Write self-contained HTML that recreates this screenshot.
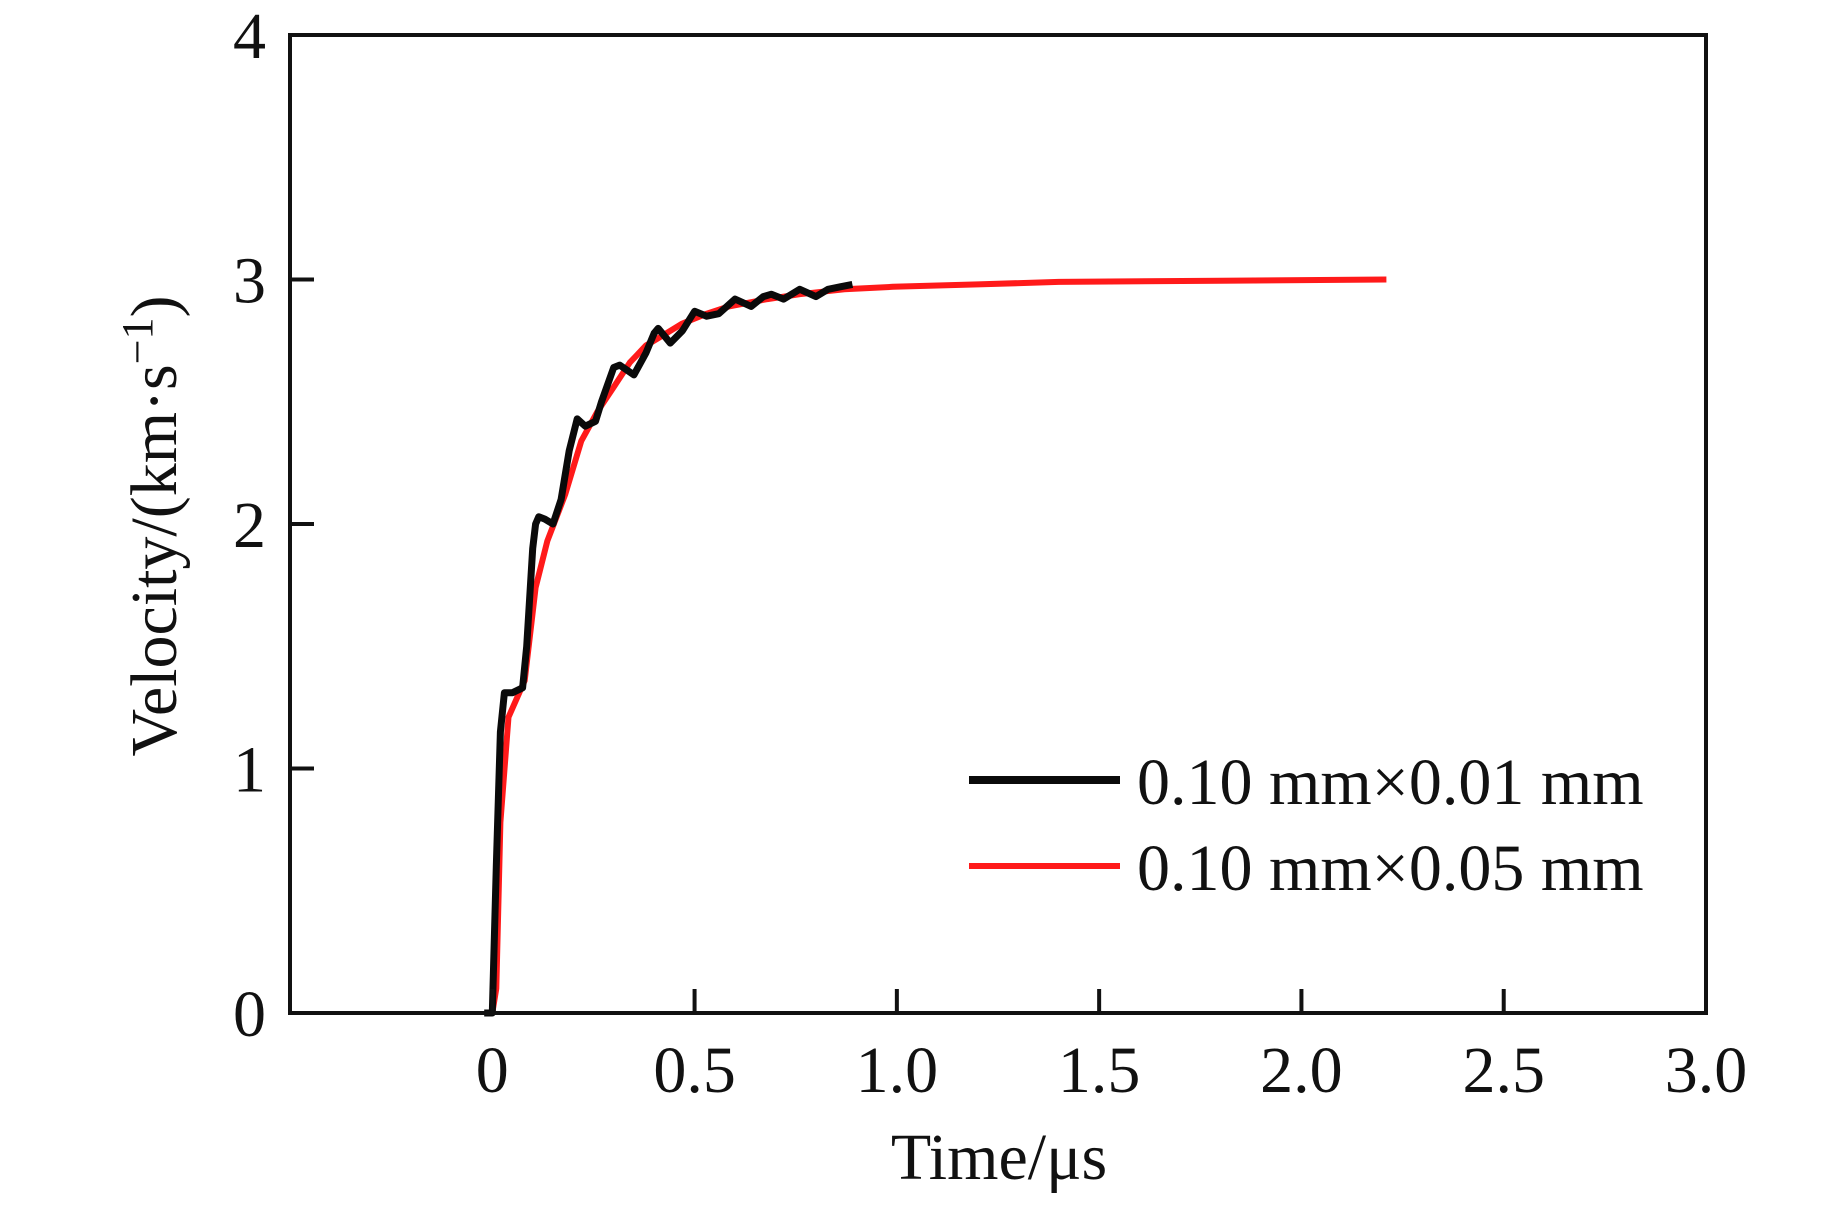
<!DOCTYPE html>
<html><head><meta charset="utf-8"><style>
html,body{margin:0;padding:0;background:#fff;}
svg{display:block;font-family:"Liberation Serif",serif;}
</style></head><body>
<svg id="chart" width="1843" height="1205" viewBox="0 0 1843 1205">
<g id="plot"></g>
</svg>
<script>
const xTicks = [0, 0.5, 1.0, 1.5, 2.0, 2.5, 3.0];
const xTickLabels = ["0", "0.5", "1.0", "1.5", "2.0", "2.5", "3.0"];
const yTicks = [0, 1, 2, 3, 4];
const yTickLabels = ["0", "1", "2", "3", "4"];
const fineTime = [-0.02, 0.0, 0.01, 0.02, 0.03, 0.05, 0.075, 0.085, 0.10, 0.107, 0.115, 0.13, 0.15, 0.17, 0.19, 0.21, 0.23, 0.255, 0.27, 0.30, 0.315, 0.35, 0.38, 0.40, 0.41, 0.44, 0.47, 0.50, 0.53, 0.56, 0.60, 0.64, 0.67, 0.69, 0.72, 0.76, 0.80, 0.83, 0.86, 0.89];
const fineVel = [0, 0, 0.6, 1.15, 1.31, 1.31, 1.33, 1.5, 1.9, 2.0, 2.03, 2.02, 2.0, 2.1, 2.3, 2.43, 2.4, 2.42, 2.5, 2.64, 2.65, 2.61, 2.7, 2.78, 2.8, 2.74, 2.79, 2.87, 2.85, 2.86, 2.92, 2.89, 2.93, 2.94, 2.92, 2.96, 2.93, 2.96, 2.97, 2.98];
const coarseTime = [0.0, 0.01, 0.02, 0.04, 0.08, 0.107, 0.136, 0.18, 0.22, 0.26, 0.30, 0.34, 0.38, 0.43, 0.47, 0.53, 0.585, 0.68, 0.76, 0.87, 0.99, 1.2, 1.4, 1.8, 2.21];
const coarseVel = [0, 0.1, 0.78, 1.21, 1.36, 1.74, 1.93, 2.12, 2.34, 2.46, 2.56, 2.66, 2.73, 2.78, 2.82, 2.86, 2.89, 2.92, 2.94, 2.96, 2.97, 2.98, 2.99, 2.995, 3.0];

const L=290, R=1706, T=35, B=1013;
const xMin=-0.5, xMax=3.0, yMin=0, yMax=4;
const sx = t => L + (t - xMin) / (xMax - xMin) * (R - L);
const sy = v => B - (v - yMin) / (yMax - yMin) * (B - T);
const NS = "http://www.w3.org/2000/svg";
const g = document.getElementById('plot');
function mk(tag, attrs, parent){ const e=document.createElementNS(NS,tag); for(const k in attrs) e.setAttribute(k,attrs[k]); (parent||g).appendChild(e); return e; }

function pathOf(ts, vs){ return ts.map((t,i)=>(i?'L':'M')+sx(t).toFixed(1)+','+sy(vs[i]).toFixed(1)).join(' '); }
const red = mk('path',{d:pathOf(coarseTime,coarseVel),fill:'none',stroke:'#ff1a1a','stroke-width':6,'stroke-linejoin':'round'});


const blk = mk('path',{d:pathOf(fineTime,fineVel),fill:'none',stroke:'#0a0a0a','stroke-width':7,'stroke-linejoin':'round'});



const frame = mk('rect',{x:L,y:T,width:R-L,height:B-T,fill:'none',stroke:'#111','stroke-width':4});



xTicks.forEach((t,i)=>{
  const tk = mk('line',{x1:sx(t),x2:sx(t),y1:B,y2:B-24,stroke:'#111','stroke-width':4});
  
  
  const lb = mk('text',{x:sx(t),y:1092,'text-anchor':'middle','font-size':66,fill:'#111'});
  lb.textContent = xTickLabels[i];
  
  
});
yTicks.forEach((v,i)=>{
  const tk = mk('line',{x1:L,x2:L+24,y1:sy(v),y2:sy(v),stroke:'#111','stroke-width':4});
  
  
  const lb = mk('text',{x:266,y:sy(v)+23,'text-anchor':'end','font-size':66,fill:'#111'});
  lb.textContent = yTickLabels[i];
  
  
});

const xt = mk('text',{x:999,y:1179,'text-anchor':'middle','font-size':66,fill:'#111'});
xt.textContent='Time/\u03bcs';


const yt = mk('text',{x:0,y:0,'text-anchor':'middle','font-size':66,fill:'#111',transform:'translate(176,526) rotate(-90)'});
yt.innerHTML='Velocity/(km\u00b7s<tspan dy="-24" font-size="44">\u22121</tspan><tspan dy="24">)</tspan>';



const leg = mk('g',{});


const l1 = mk('line',{x1:969,x2:1120,y1:780,y2:780,stroke:'#0a0a0a','stroke-width':8},leg);


const t1 = mk('text',{x:1137,y:804,'font-size':66,fill:'#111'},leg);
t1.textContent='0.10 mm\u00d70.01 mm';


const l2 = mk('line',{x1:969,x2:1120,y1:866,y2:866,stroke:'#ff1a1a','stroke-width':6},leg);


const t2 = mk('text',{x:1137,y:890,'font-size':66,fill:'#111'},leg);
t2.textContent='0.10 mm\u00d70.05 mm';


</script>
</body></html>
